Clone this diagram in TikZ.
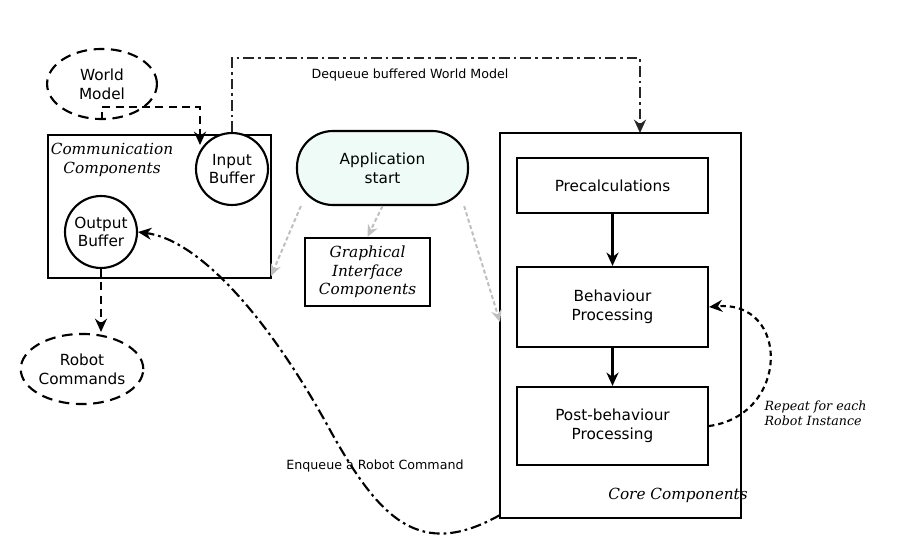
\documentclass[tikz,border=0pt]{standalone}
\usepackage{fontspec}
\setmainfont{DejaVu Sans}
\newfontfamily\ital{DejaVu Serif}
\usetikzlibrary{arrows.meta,shapes.geometric}
\definecolor{appfill}{HTML}{EEFBF7}
\begin{document}
\begin{tikzpicture}[x=0.0264cm,y=-0.0264cm,
 box/.style={draw,line width=1.6pt,align=center,font=\fontsize{11.5}{14}\selectfont},
 it/.style={font=\ital\itshape\fontsize{11.5}{14}\selectfont,align=left},
 circ/.style={draw,circle,line width=1.6pt,minimum size=1.9cm,inner sep=0pt,align=center,font=\fontsize{11.5}{14}\selectfont},
 ell/.style={draw,ellipse,dash pattern=on 8pt off 5pt,line width=1.6pt,minimum width=2.9cm,minimum height=1.85cm,inner sep=0pt,align=center,font=\fontsize{11.5}{14}\selectfont},
 arr/.style={-{Stealth[length=10pt,width=9pt]},line width=1.6pt},
 garr/.style={-{Stealth[length=9pt,width=8pt]},line width=1.5pt,gray!50,dash pattern=on 3pt off 2pt},
 dsh/.style={dash pattern=on 6pt off 4pt},
 dd/.style={dash pattern=on 8pt off 3pt on 2pt off 3pt},
 lbl/.style={font=\fontsize{9.5}{11}\selectfont}]
\useasboundingbox (0,0) rectangle (910,556);
\node[box,minimum width=223*0.0264cm,minimum height=143*0.0264cm] (comm) at (159.5,206.5) {};
\node[it,align=center] (commlbl) at (112,160) {Communication\\Components};
\node[ell] (wm) at (102,84) {World\\Model};
\node[ell] (rc) at (82,369) {Robot\\Commands};
\node[circ,fill=white] (ib) at (232,169) {Input\\Buffer};
\node[circ] (ob) at (101,232) {Output\\Buffer};
\node[box,rounded corners=0.95cm,fill=appfill,minimum width=171*0.0264cm,minimum height=74*0.0264cm] (app) at (382.5,168) {Application\\start};
\node[box,it,align=center,minimum width=125*0.0264cm,minimum height=68*0.0264cm] (gui) at (367.5,272) {Graphical\\Interface\\Components};
\node[box,minimum width=241*0.0264cm,minimum height=385*0.0264cm] (core) at (620.5,325.5) {};
\node[it] (corelbl) at (678,495) {Core Components};
\node[box,minimum width=191*0.0264cm,minimum height=55*0.0264cm] (pre) at (612.5,185.5) {Precalculations};
\node[box,minimum width=191*0.0264cm,minimum height=80*0.0264cm] (beh) at (612.5,307) {Behaviour\\Processing};
\node[box,minimum width=191*0.0264cm,minimum height=78*0.0264cm] (post) at (612.5,426) {Post-behaviour\\Processing};
\coordinate (c1) at (102,107);
\coordinate (c2) at (200,107);
\draw[arr,dsh] (wm.south) -- (c1) -- (c2) -- (200,145);
\coordinate (d1) at (232,58);
\coordinate (d2) at (640,58);
\draw[arr,dd,gray!30!black] (ib.north) -- (d1) -- (d2) -- (640,133);
\node[lbl] (deq) at (410,75) {Dequeue buffered World Model};
\draw[arr,dsh] (ob.south) -- (101,332);
\draw[garr] (app.205) -- (271,276);
\draw[garr] (app.south) -- (gui.north);
\draw[garr] (app.335) -- (500,322);
\draw[arr] (pre) -- (beh);
\draw[arr] (beh) -- (post);
\draw[arr,dash pattern=on 4pt off 3pt] (post.east) .. controls (790,415) and (790,300) .. (beh.east);
\node[it,anchor=west,font=\ital\itshape\fontsize{9.5}{11}\selectfont] (rep) at (760,413) {Repeat for each\\Robot Instance};
\draw[arr,dd] (500,515) .. controls (420,560) and (380,520) .. (330,430) .. controls (270,320) and (200,240) .. (ob.east);
\node[lbl] (enq) at (375,466) {Enqueue a Robot Command};
\end{tikzpicture}
\end{document}
